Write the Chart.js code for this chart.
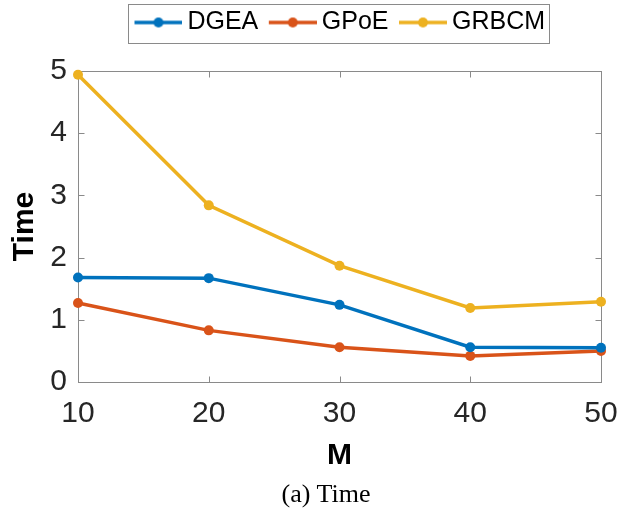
<!DOCTYPE html>
<html><head><meta charset="utf-8">
<script src="https://cdn.jsdelivr.net/npm/chart.js@4"></script>
<style>
html,body{margin:0;padding:0;background:#fff;}
#wrap{position:relative;width:619px;height:519px;}
#holder{position:absolute;left:0;top:0;width:619px;height:480px;}
#cap{position:absolute;top:479px;left:226px;width:200px;text-align:center;font-family:"Liberation Serif";font-size:26px;line-height:30px;color:#000;}
</style></head><body>
<div id="wrap"><div id="holder"><canvas id="c"></canvas></div><div id="cap">(a) Time</div></div>
<script>
const mValues = [10, 20, 30, 40, 50];
const dgeaTime = [1.68, 1.67, 1.24, 0.56, 0.55];
const gpoeTime = [1.27, 0.83, 0.56, 0.42, 0.50];
const grbcmTime = [4.94, 2.84, 1.87, 1.19, 1.29];
const seriesNames = ['DGEA', 'GPoE', 'GRBCM'];
const seriesColors = ['#0072BD', '#D95319', '#EDB120'];
const yTickValues = [0, 1, 2, 3, 4, 5];

const seriesValues = [dgeaTime, gpoeTime, grbcmTime];

function makeIcon(color) {
  const c = document.createElement('canvas');
  c.width = 56; c.height = 12;
  const g = c.getContext('2d');
  g.strokeStyle = color; g.lineWidth = 3.5;
  g.beginPath(); g.moveTo(8, 6); g.lineTo(56, 6); g.stroke();
  g.fillStyle = color;
  g.beginPath(); g.arc(32, 6, 5, 0, 2 * Math.PI); g.fill();
  return c;
}
const icons = seriesColors.map(makeIcon);

const datasets = seriesNames.map((name, i) => ({
  label: name,
  data: mValues.map((m, j) => ({x: m, y: seriesValues[i][j]})),
  borderColor: seriesColors[i],
  backgroundColor: seriesColors[i],
  borderWidth: 3.5,
  pointRadius: 5,
  pointHoverRadius: 5,
  pointBorderWidth: 0,
  pointBackgroundColor: seriesColors[i],
  tension: 0,
  clip: false
}));

const boxPlugin = {
  id: 'matlabBox',
  beforeDatasetsDraw(chart) {
    const {ctx, chartArea: a, scales: {x, y}} = chart;
    ctx.save();
    ctx.strokeStyle = '#8a8a8a';
    ctx.lineWidth = 1;
    const L = Math.round(a.left) + 0.5, R = Math.round(a.right) + 0.5;
    const T = Math.round(a.top) + 0.5, B = Math.round(a.bottom) + 0.5;
    ctx.strokeRect(L, T, R - L, B - T);
    ctx.beginPath();
    x.ticks.forEach(t => {
      const px = Math.round(x.getPixelForValue(t.value)) + 0.5;
      ctx.moveTo(px, B); ctx.lineTo(px, B - 6);
      ctx.moveTo(px, T); ctx.lineTo(px, T + 6);
    });
    y.ticks.forEach(t => {
      const py = Math.round(y.getPixelForValue(t.value)) + 0.5;
      ctx.moveTo(L, py); ctx.lineTo(L + 6, py);
      ctx.moveTo(R, py); ctx.lineTo(R - 6, py);
    });
    ctx.stroke();
    ctx.restore();
  },
  afterDraw(chart) {
    const hb = chart.legend && chart.legend.legendHitBoxes;
    if (!hb || !hb.length) return;
    const ctx = chart.ctx;
    let l = Infinity, r = -Infinity;
    hb.forEach(h => { l = Math.min(l, h.left); r = Math.max(r, h.left + h.width); });
    const t = hb[0].top - 6.5, b = hb[0].top + hb[0].height + 7;
    ctx.save();
    ctx.strokeStyle = '#8a8a8a';
    ctx.lineWidth = 1;
    ctx.strokeRect(Math.round(l - 6) + 0.5, Math.round(t) + 0.5, Math.round(r - l + 10), Math.round(b - t));
    ctx.restore();
  }
};

new Chart(document.getElementById('c'), {
  type: 'line',
  data: {datasets},
  plugins: [boxPlugin],
  options: {
    responsive: true,
    maintainAspectRatio: false,
    animation: false,
    events: [],
    layout: {padding: {top: 0, right: 0, bottom: 0, left: 0}},
    plugins: {
      tooltip: {enabled: false},
      title: {display: true, text: '', position: 'top', weight: 500, font: {size: 10, lineHeight: 1}, padding: {top: 16, bottom: 0}},
      legend: {
        display: true,
        position: 'top',
        fullSize: false,
        align: 'center',
        labels: {
          usePointStyle: true,
          pointStyleWidth: 41,
          padding: 10,
          color: '#000',
          font: {family: 'Liberation Sans', size: 25},
          generateLabels: (chart) => seriesNames.map((n, i) => ({
            text: n, pointStyle: icons[i], fillStyle: seriesColors[i], strokeStyle: seriesColors[i],
            lineWidth: 0, hidden: false, datasetIndex: i, fontColor: '#000'
          }))
        }
      }
    },
    scales: {
      x: {
        type: 'linear', min: 10, max: 50,
        afterBuildTicks: (s) => { s.ticks = mValues.map(v => ({value: v})); },
        afterFit: (s) => { s.height = 98; s.paddingRight = 18; s.paddingLeft = 0; },
        grid: {display: false, drawTicks: false},
        border: {display: false},
        ticks: {color: '#262626', font: {family: 'Liberation Sans', size: 30}, padding: 14, maxRotation: 0},
        title: {display: true, text: 'M', color: '#000', font: {family: 'Liberation Sans', size: 30, weight: 'bold'}, padding: {top: 0, bottom: 6}}
      },
      y: {
        type: 'linear', min: 0, max: 5,
        afterBuildTicks: (s) => { s.ticks = yTickValues.map(v => ({value: v})); },
        afterFit: (s) => { s.width = 78; },
        grid: {display: false, drawTicks: false},
        border: {display: false},
        ticks: {color: '#262626', font: {family: 'Liberation Sans', size: 30}, padding: 11},
        title: {display: true, text: 'Time', color: '#000', font: {family: 'Liberation Sans', size: 30, weight: 'bold'}, padding: {top: 7, bottom: 0}}
      }
    }
  }
});
</script>
</body></html>
